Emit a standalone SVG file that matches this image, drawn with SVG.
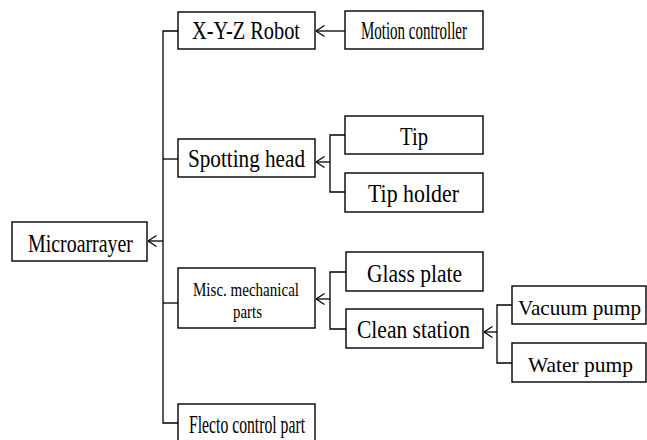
<svg xmlns="http://www.w3.org/2000/svg" width="647" height="440" viewBox="0 0 647 440">
<defs>
<marker id="ah" viewBox="0 0 10 12" refX="9.5" refY="6" markerWidth="10" markerHeight="12" markerUnits="userSpaceOnUse" orient="auto">
<path d="M1,0.5 L9.5,6 L1,11.5" fill="none" stroke="#000" stroke-width="1.2"/>
</marker>
</defs>
<style>
.box{fill:#fff;stroke:#000;stroke-width:1.4}
.t{font-family:'Liberation Serif','Times New Roman',serif;font-size:25px;fill:#000}
.s{font-size:19px}
.p{font-size:22px}
.c{fill:none;stroke:#000;stroke-width:1.3}
</style>
<rect width="647" height="440" fill="#fff"/>
<g id="connectors">
<path class="c" d="M178,31 H163 V423 H178"/>
<path class="c" d="M163,159 H178"/>
<path class="c" d="M163,303 H178"/>
<path class="c" d="M163,241 H148" marker-end="url(#ah)"/>
<path class="c" d="M345,31 H316" marker-end="url(#ah)"/>
<path class="c" d="M345,135 H330 V192 H345"/>
<path class="c" d="M330,162 H316" marker-end="url(#ah)"/>
<path class="c" d="M346,272 H330 V329 H346"/>
<path class="c" d="M330,299 H316" marker-end="url(#ah)"/>
<path class="c" d="M512,305 H497 V363 H512"/>
<path class="c" d="M497,332 H484" marker-end="url(#ah)"/>
</g>
<g id="microarrayer">
<rect class="box" x="12" y="222" width="135" height="39"/>
<text class="t" x="28" y="252" textLength="105" lengthAdjust="spacingAndGlyphs">Microarrayer</text>
</g>
<g id="xyz-robot">
<rect class="box" x="178" y="12" width="137" height="37"/>
<text class="t" x="192" y="39" textLength="108" lengthAdjust="spacingAndGlyphs">X-Y-Z Robot</text>
</g>
<g id="motion-controller">
<rect class="box" x="345" y="11" width="138" height="38"/>
<text class="t" x="361" y="39" textLength="106" lengthAdjust="spacingAndGlyphs">Motion controller</text>
</g>
<g id="spotting-head">
<rect class="box" x="178" y="139" width="137" height="38"/>
<text class="t" x="188" y="167" textLength="117" lengthAdjust="spacingAndGlyphs">Spotting head</text>
</g>
<g id="tip">
<rect class="box" x="345" y="116" width="138" height="38"/>
<text class="t" x="400" y="145" textLength="28" lengthAdjust="spacingAndGlyphs">Tip</text>
</g>
<g id="tip-holder">
<rect class="box" x="345" y="173" width="138" height="39"/>
<text class="t" x="368" y="202" textLength="91" lengthAdjust="spacingAndGlyphs">Tip holder</text>
</g>
<g id="misc-mechanical-parts">
<rect class="box" x="178" y="268" width="137" height="60"/>
<text class="t s" x="193" y="296" textLength="106" lengthAdjust="spacingAndGlyphs">Misc. mechanical</text>
<text class="t s" x="233" y="318" textLength="29" lengthAdjust="spacingAndGlyphs">parts</text>
</g>
<g id="glass-plate">
<rect class="box" x="346" y="252" width="137" height="39"/>
<text class="t" x="367" y="282" textLength="95" lengthAdjust="spacingAndGlyphs">Glass plate</text>
</g>
<g id="clean-station">
<rect class="box" x="346" y="309" width="137" height="39"/>
<text class="t" x="357" y="338" textLength="113" lengthAdjust="spacingAndGlyphs">Clean station</text>
</g>
<g id="vacuum-pump">
<rect class="box" x="512" y="286" width="134" height="38"/>
<text class="t p" x="518" y="315" textLength="123" lengthAdjust="spacingAndGlyphs">Vacuum pump</text>
</g>
<g id="water-pump">
<rect class="box" x="512" y="343" width="134" height="39"/>
<text class="t p" x="528" y="372" textLength="105" lengthAdjust="spacingAndGlyphs">Water pump</text>
</g>
<g id="flecto-control-part">
<rect class="box" x="178" y="404" width="137" height="40"/>
<text class="t" x="189" y="433" textLength="116" lengthAdjust="spacingAndGlyphs">Flecto control part</text>
</g>
</svg>
